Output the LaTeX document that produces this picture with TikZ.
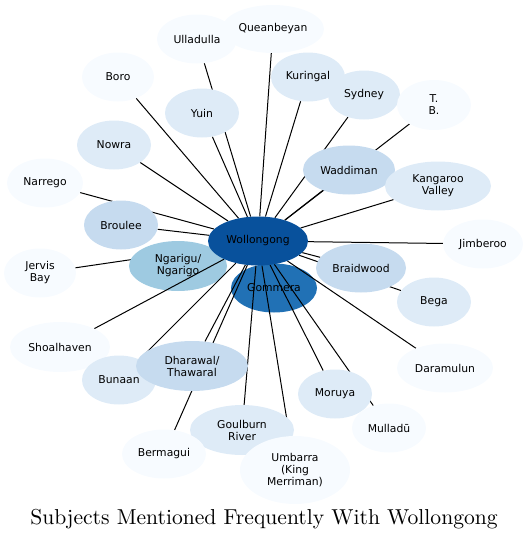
\documentclass[tikz,border=0pt]{standalone}
\usepackage{fontspec}
\setsansfont{DejaVu Sans}
\newfontfamily\titlefont{lmroman10-regular}[Extension=.otf]
\usetikzlibrary{shapes.geometric, backgrounds}

\definecolor{blues0}{HTML}{F7FBFF}
\definecolor{blues1}{HTML}{DEEBF7}
\definecolor{blues2}{HTML}{C6DBEF}
\definecolor{blues3}{HTML}{9ECAE1}
\definecolor{blues5}{HTML}{2171B5}
\definecolor{blues6}{HTML}{08519C}

\begin{document}
\begin{tikzpicture}[
    x=1pt, y=-1pt,
    font=\sffamily\fontsize{10.8}{12}\selectfont,
    topic/.style={ellipse, inner sep=0pt, align=center, minimum width=74pt, minimum height=49pt},
    rare/.style={topic, fill=blues0},
    some/.style={topic, fill=blues1},
    often/.style={topic, fill=blues2},
    lots/.style={topic, fill=blues3},
    most/.style={topic, fill=blues5},
    hub/.style={topic, fill=blues6},
    link/.style={draw=black, line width=1pt}
]
\useasboundingbox (0,0) rectangle (529,539);

\node[rare, minimum width=80pt] (ull) at (197,39) {Ulladulla};
\node[rare, minimum width=102pt, minimum height=48pt] (que) at (273,29) {Queanbeyan};
\node[rare, minimum width=72pt] (boro) at (118,77) {Boro};
\node[some] (yuin) at (202,113) {Yuin};
\node[some] (kur) at (308,77) {Kuringal};
\node[some, minimum width=72pt] (syd) at (364,95) {Sydney};
\node[rare, minimum height=50pt] (tb) at (434,105) {T.\\B.};
\node[some] (now) at (114,145) {Nowra};
\node[rare, minimum width=76pt] (nar) at (45,183) {Narrego};
\node[often, minimum width=92pt] (wad) at (349,170) {Waddiman};
\node[some, minimum width=106pt] (kan) at (438,186) {Kangaroo\\Valley};
\node[often] (bro) at (121,225) {Broulee};
\node[rare, minimum width=80pt] (jim) at (483,244) {Jimberoo};
\node[hub, minimum width=100pt] (wol) at (258,241) {Wollongong};
\node[often, minimum width=90pt] (brd) at (361,268) {Braidwood};
\node[some] (bega) at (434,302) {Bega};
\node[rare, minimum width=72pt] (jer) at (40,273) {Jervis\\Bay};
\node[rare, minimum width=100pt, minimum height=50pt] (sho) at (60,347) {Shoalhaven};
\node[some] (bun) at (119,380) {Bunaan};
\node[often, minimum width=112pt, minimum height=50pt] (dha) at (192,366) {Dharawal/\\Thawaral};
\node[rare, minimum width=96pt] (dar) at (445,368) {Daramulun};
\node[some] (mor) at (335,394) {Moruya};
\node[rare] (mul) at (389,428) {Mulladū};
\node[some, minimum width=104pt, minimum height=50pt] (gou) at (242,430) {Goulburn\\River};
\node[rare, minimum width=110pt, minimum height=68pt] (umb) at (295,470) {Umbarra\\(King\\Merriman)};
\node[rare, minimum width=84pt] (ber) at (164,454) {Bermagui};

\node[anchor=base, font=\titlefont\fontsize{21.6}{26}\selectfont] (title) at (264,524) {Subjects Mentioned Frequently With Wollongong};

% links sit under the outer bubbles, but over Ngarigu and Gommera
\begin{pgfonlayer}{background}
\path[link] (wol) edge (jer);
\node[lots, minimum width=98pt, minimum height=50pt] (nga) at (178,266) {Ngarigu/\\Ngarigo};
\node[most, minimum width=86pt] (gom) at (274,288) {Gommera};
\path[link]
    (wol) edge (ull) edge (que) edge (boro) edge (yuin)
    (wol) edge (kur) edge (syd) edge (tb) edge (now)
    (wol) edge (nar) edge (wad) edge (kan) edge (bro)
    (wol) edge (jim) edge (brd) edge (bega) edge (sho)
    (wol) edge (bun) edge (dha) edge (dar) edge (mor)
    (wol) edge (mul) edge (gou) edge (umb) edge (ber);
\end{pgfonlayer}

\end{tikzpicture}
\end{document}
